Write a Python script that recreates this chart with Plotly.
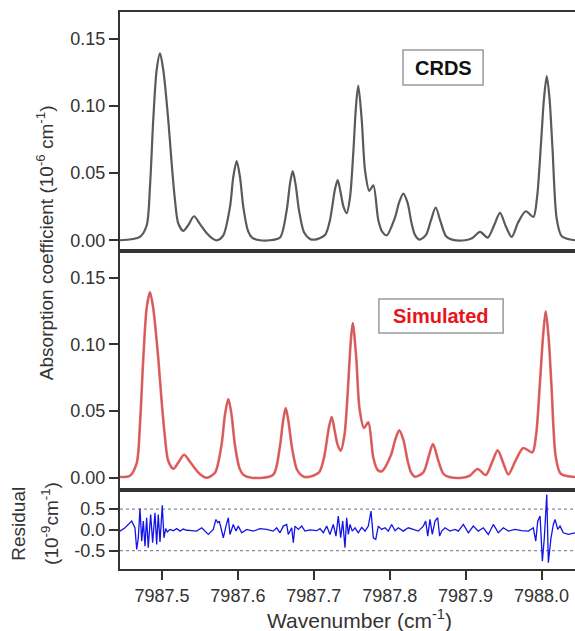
import plotly.graph_objects as go

# ---------------- data ----------------
crds_x = [7987.4447, 7987.4710, 7987.4798, 7987.4842, 7987.4885, 7987.4930, 7987.4974,
          7987.5017, 7987.5083, 7987.5128, 7987.5171, 7987.5215, 7987.5281, 7987.5343,
          7987.5422, 7987.5501, 7987.5593, 7987.5672, 7987.5725, 7987.5808, 7987.5896,
          7987.5939, 7987.5984, 7987.6028, 7987.6071, 7987.6133, 7987.6186, 7987.6291,
          7987.6423, 7987.6555, 7987.6643, 7987.6686, 7987.6722, 7987.6759, 7987.6805,
          7987.6871, 7987.6950, 7987.7016, 7987.7148, 7987.7213, 7987.7279, 7987.7315,
          7987.7352, 7987.7391, 7987.7433, 7987.7477, 7987.7520, 7987.7556, 7987.7586,
          7987.7631, 7987.7675, 7987.7731, 7987.7784, 7987.7850, 7987.7905, 7987.7960,
          7987.8070, 7987.8123, 7987.8179, 7987.8235, 7987.8287, 7987.8333, 7987.8390,
          7987.8478, 7987.8544, 7987.8606, 7987.8669, 7987.8742, 7987.8821, 7987.8992,
          7987.9084, 7987.9190, 7987.9291, 7987.9374, 7987.9453, 7987.9532, 7987.9607,
          7987.9690, 7987.9792, 7987.9892, 7987.9941, 7987.9993, 7988.0033, 7988.0069,
          7988.0105, 7988.0145, 7988.0200, 7988.0266, 7988.0441]
crds_y = [0.0000, 0.0025, 0.0110, 0.0400, 0.0896, 0.1270, 0.1393,
          0.1270, 0.0896, 0.0570, 0.0300, 0.0125, 0.0070, 0.0110,
          0.0179, 0.0120, 0.0050, 0.0010, 0.0000, 0.0037, 0.0249,
          0.0470, 0.0590, 0.0470, 0.0249, 0.0070, 0.0020, 0.0000,
          0.0000, 0.0020, 0.0224, 0.0420, 0.0515, 0.0420, 0.0224,
          0.0060, 0.0010, 0.0005, 0.0040, 0.0150, 0.0380, 0.0448,
          0.0360, 0.0250, 0.0202, 0.0320, 0.0650, 0.1000, 0.1152,
          0.0900, 0.0520, 0.0368, 0.0410, 0.0150, 0.0060, 0.0037,
          0.0170, 0.0280, 0.0348, 0.0280, 0.0130, 0.0040, 0.0005,
          0.0040, 0.0150, 0.0244, 0.0140, 0.0030, 0.0005, 0.0000,
          0.0015, 0.0062, 0.0020, 0.0110, 0.0204, 0.0100, 0.0025,
          0.0130, 0.0216, 0.0174, 0.0320, 0.0720, 0.1060, 0.1224,
          0.1060, 0.0680, 0.0160, 0.0030, 0.0000]

sim_x = [7987.4447, 7987.4578, 7987.4667, 7987.4710, 7987.4754, 7987.4798, 7987.4842,
         7987.4885, 7987.4951, 7987.4996, 7987.5040, 7987.5083, 7987.5149, 7987.5211,
         7987.5290, 7987.5369, 7987.5461, 7987.5540, 7987.5593, 7987.5698, 7987.5785,
         7987.5829, 7987.5874, 7987.5917, 7987.5960, 7987.6022, 7987.6075, 7987.6181,
         7987.6462, 7987.6551, 7987.6594, 7987.6630, 7987.6667, 7987.6713, 7987.6779,
         7987.6858, 7987.6924, 7987.7069, 7987.7134, 7987.7200, 7987.7236, 7987.7273,
         7987.7312, 7987.7354, 7987.7404, 7987.7448, 7987.7484, 7987.7513, 7987.7559,
         7987.7602, 7987.7661, 7987.7718, 7987.7784, 7987.7839, 7987.7895, 7987.8017,
         7987.8070, 7987.8126, 7987.8182, 7987.8235, 7987.8281, 7987.8333, 7987.8443,
         7987.8509, 7987.8570, 7987.8634, 7987.8706, 7987.8785, 7987.8959, 7987.9054,
         7987.9159, 7987.9265, 7987.9344, 7987.9423, 7987.9502, 7987.9563, 7987.9659,
         7987.9760, 7987.9879, 7987.9928, 7987.9980, 7988.0020, 7988.0055, 7988.0092,
         7988.0132, 7988.0187, 7988.0253, 7988.0441]
sim_y = [0.0005, 0.0015, 0.0110, 0.0400, 0.0896, 0.1270, 0.1390,
         0.1270, 0.0896, 0.0570, 0.0300, 0.0125, 0.0067, 0.0110,
         0.0172, 0.0120, 0.0050, 0.0010, 0.0000, 0.0037, 0.0249,
         0.0470, 0.0590, 0.0470, 0.0249, 0.0070, 0.0020, 0.0000,
         0.0020, 0.0224, 0.0420, 0.0522, 0.0420, 0.0224, 0.0060,
         0.0010, 0.0005, 0.0040, 0.0150, 0.0380, 0.0455, 0.0360,
         0.0250, 0.0203, 0.0320, 0.0650, 0.1000, 0.1160, 0.0900,
         0.0520, 0.0373, 0.0415, 0.0150, 0.0060, 0.0048, 0.0170,
         0.0280, 0.0355, 0.0280, 0.0130, 0.0040, 0.0008, 0.0040,
         0.0150, 0.0253, 0.0140, 0.0030, 0.0005, 0.0000, 0.0015,
         0.0065, 0.0020, 0.0110, 0.0205, 0.0100, 0.0025, 0.0130,
         0.0223, 0.0190, 0.0320, 0.0720, 0.1060, 0.1247, 0.1060,
         0.0680, 0.0160, 0.0030, 0.0005]

res_x = [7987.4447, 7987.4513, 7987.4601, 7987.4644, 7987.4667, 7987.4688, 7987.4710,
         7987.4733, 7987.4754, 7987.4776, 7987.4798, 7987.4819, 7987.4851, 7987.4877,
         7987.4908, 7987.4930, 7987.4951, 7987.4974, 7987.5004, 7987.5026, 7987.5049,
         7987.5070, 7987.5105, 7987.5149, 7987.5194, 7987.5237, 7987.5281, 7987.5325,
         7987.5391, 7987.5457, 7987.5523, 7987.5610, 7987.5676, 7987.5711, 7987.5734,
         7987.5755, 7987.5777, 7987.5808, 7987.5843, 7987.5874, 7987.5896, 7987.5939,
         7987.5975, 7987.6005, 7987.6050, 7987.6116, 7987.6203, 7987.6291, 7987.6379,
         7987.6466, 7987.6511, 7987.6555, 7987.6598, 7987.6643, 7987.6664, 7987.6709,
         7987.6730, 7987.6752, 7987.6796, 7987.6841, 7987.6884, 7987.6950, 7987.7038,
         7987.7082, 7987.7125, 7987.7170, 7987.7213, 7987.7257, 7987.7292, 7987.7323,
         7987.7354, 7987.7381, 7987.7411, 7987.7433, 7987.7455, 7987.7477, 7987.7507,
         7987.7543, 7987.7586, 7987.7631, 7987.7675, 7987.7718, 7987.7754, 7987.7784,
         7987.7816, 7987.7850, 7987.7895, 7987.7938, 7987.7982, 7987.8026, 7987.8070,
         7987.8113, 7987.8179, 7987.8245, 7987.8311, 7987.8377, 7987.8443, 7987.8474,
         7987.8501, 7987.8531, 7987.8561, 7987.8597, 7987.8632, 7987.8658, 7987.8685,
         7987.8729, 7987.8794, 7987.8860, 7987.8904, 7987.8970, 7987.9036, 7987.9101,
         7987.9167, 7987.9233, 7987.9299, 7987.9365, 7987.9431, 7987.9497, 7987.9563,
         7987.9651, 7987.9739, 7987.9827, 7987.9892, 7987.9924, 7987.9950, 7987.9981,
         7988.0011, 7988.0037, 7988.0069, 7988.0090, 7988.0125, 7988.0156, 7988.0178,
         7988.0213, 7988.0244, 7988.0287, 7988.0353, 7988.0441]
res_y = [-0.03, 0.05, 0.21, 0.05, -0.47, -0.19, 0.51,
         -0.27, 0.21, -0.39, 0.29, -0.43, 0.37, -0.31,
         0.41, -0.35, 0.37, -0.29, 0.59, -0.19, 0.03,
         -0.05, 0.01, -0.02, 0.03, -0.03, 0.02, -0.01,
         -0.02, -0.03, 0.05, -0.11, 0.01, 0.25, 0.17,
         0.21, 0.05, -0.19, 0.09, 0.29, -0.11, 0.13,
         -0.03, 0.09, -0.07, 0.01, -0.03, 0.03, 0.01,
         -0.03, 0.05, -0.07, 0.09, 0.13, -0.11, 0.05,
         -0.31, 0.09, 0.01, 0.09, -0.03, 0.00, -0.02,
         0.03, -0.07, 0.09, -0.11, 0.13, -0.15, 0.33,
         -0.19, 0.21, -0.43, 0.29, -0.11, 0.13, -0.03,
         0.05, -0.07, 0.06, -0.03, 0.09, 0.45, -0.19,
         -0.23, 0.09, 0.01, 0.05, -0.03, 0.13, -0.02,
         0.05, -0.03, 0.05, 0.01, -0.03, 0.09, 0.21,
         -0.15, 0.25, -0.11, 0.21, 0.29, -0.15, -0.03,
         0.05, -0.03, 0.01, -0.03, 0.13, -0.07, 0.09,
         -0.03, 0.05, -0.11, 0.13, -0.07, 0.05, -0.03,
         0.01, -0.02, -0.03, 0.05, -0.27, 0.21, 0.33,
         -0.75, -0.19, 0.85, -0.79, -0.19, 0.13, 0.25,
         0.01, 0.09, -0.07, -0.11, -0.07]

x_tick_vals = [7987.5, 7987.6, 7987.7, 7987.8, 7987.9, 7988.0]
x_tick_text = ["7987.5", "7987.6", "7987.7", "7987.8", "7987.9", "7988.0"]
abs_tick_vals = [0.0, 0.05, 0.10, 0.15]
abs_tick_text = ["0.00", "0.05", "0.10", "0.15"]
res_tick_vals = [-0.5, 0.0, 0.5]
res_tick_text = ["-0.5", "0.0", "0.5"]
res_guides = [-0.5, 0.5]

# ---------------- figure ----------------
FONT = "Liberation Sans, Arial, sans-serif"
AX = "#333333"
x_range = [7987.4447, 7988.0441]

fig = go.Figure()
fig.add_trace(go.Scatter(x=crds_x, y=crds_y, mode="lines", xaxis="x3", yaxis="y3",
                         line=dict(color="#5a5a5a", width=2.2, shape="spline", smoothing=0.8)))
fig.add_trace(go.Scatter(x=sim_x, y=sim_y, mode="lines", xaxis="x2", yaxis="y2",
                         line=dict(color="#ff5a5a", width=2.6, shape="spline", smoothing=0.8)))
fig.add_trace(go.Scatter(x=sim_x, y=sim_y, mode="lines", xaxis="x2", yaxis="y2",
                         line=dict(color="#9a6a6a", width=0.9, shape="spline", smoothing=0.8)))
for g in res_guides:
    fig.add_trace(go.Scatter(x=x_range, y=[g, g], mode="lines", xaxis="x", yaxis="y",
                             line=dict(color="#8888aa", width=1.3, dash="dot")))
fig.add_trace(go.Scatter(x=res_x, y=res_y, mode="lines", xaxis="x", yaxis="y",
                         line=dict(color="#1414e6", width=1.3)))

d1 = 79 / 557
d2 = 318 / 557

common_x = dict(range=x_range, showline=True, linewidth=2, linecolor=AX, mirror=True,
                showgrid=False, zeroline=False)
common_y = dict(showline=True, linewidth=2, linecolor=AX, mirror=False, showgrid=False,
                zeroline=False, ticks="outside", ticklen=9, tickwidth=1.5, tickcolor=AX,
                tickfont=dict(family=FONT, size=18, color="#333"))

fig.update_layout(
    width=575, height=631,
    margin=dict(l=120, r=0, t=12, b=62),
    paper_bgcolor="white", plot_bgcolor="white",
    showlegend=False,
    xaxis=dict(**common_x, domain=[0, 1], anchor="y", ticks="outside", ticklen=9,
               tickwidth=1.5, tickcolor=AX, tickvals=x_tick_vals, ticktext=x_tick_text,
               tickfont=dict(family=FONT, size=18, color="#333")),
    xaxis2=dict(**common_x, domain=[0, 1], anchor="y2", matches="x", showticklabels=False,
                ticks=""),
    xaxis3=dict(**common_x, domain=[0, 1], anchor="y3", matches="x", showticklabels=False,
                ticks=""),
    yaxis=dict(**common_y, domain=[0, d1], anchor="x", range=[-0.94, 0.957],
               tickvals=res_tick_vals, ticktext=res_tick_text),
    yaxis2=dict(**common_y, domain=[d1, d2], anchor="x2", range=[-0.0092, 0.170],
                tickvals=abs_tick_vals, ticktext=abs_tick_text),
    yaxis3=dict(**common_y, domain=[d2, 1], anchor="x3", range=[-0.008, 0.1701],
                tickvals=abs_tick_vals, ticktext=abs_tick_text),
)

# label boxes
fig.add_shape(type="rect", xref="paper", yref="paper", x0=0.622, x1=0.798, y0=0.869, y1=0.932,
              line=dict(color="#9a9a9a", width=1.5), fillcolor="white", layer="below")
fig.add_shape(type="rect", xref="paper", yref="paper", x0=0.569, x1=0.842, y0=0.4237, y1=0.4847,
              line=dict(color="#9a9a9a", width=1.5), fillcolor="white", layer="below")

ann = [
    dict(text="<b>CRDS</b>", x=0.710, y=0.900, font=dict(family=FONT, size=20, color="#111")),
    dict(text="<b>Simulated</b>", x=0.7055, y=0.4545, font=dict(family=FONT, size=20, color="#e8141c")),
    dict(text="Absorption coefficient (10<sup>-6</sup> cm<sup>-1</sup>)", x=-0.1648, y=0.585,
         textangle=-90, font=dict(family=FONT, size=19, color="#333")),
    dict(text="Residual", x=-0.2237, y=0.0817, textangle=-90,
         font=dict(family=FONT, size=19, color="#333")),
    dict(text="(10<sup>-9</sup>cm<sup>-1</sup>)", x=-0.154, y=0.0826, textangle=-90,
         font=dict(family=FONT, size=19, color="#333")),
    dict(text="Wavenumber (cm<sup>-1</sup>)", x=0.527, y=-0.0900,
         font=dict(family=FONT, size=21, color="#333")),
]
for a in ann:
    fig.add_annotation(xref="paper", yref="paper", showarrow=False,
                       xanchor="center", yanchor="middle", **a)

fig.write_html("out.html", config={"displayModeBar": False},
               post_script="document.body.style.margin='0';document.body.style.overflow='hidden';")
